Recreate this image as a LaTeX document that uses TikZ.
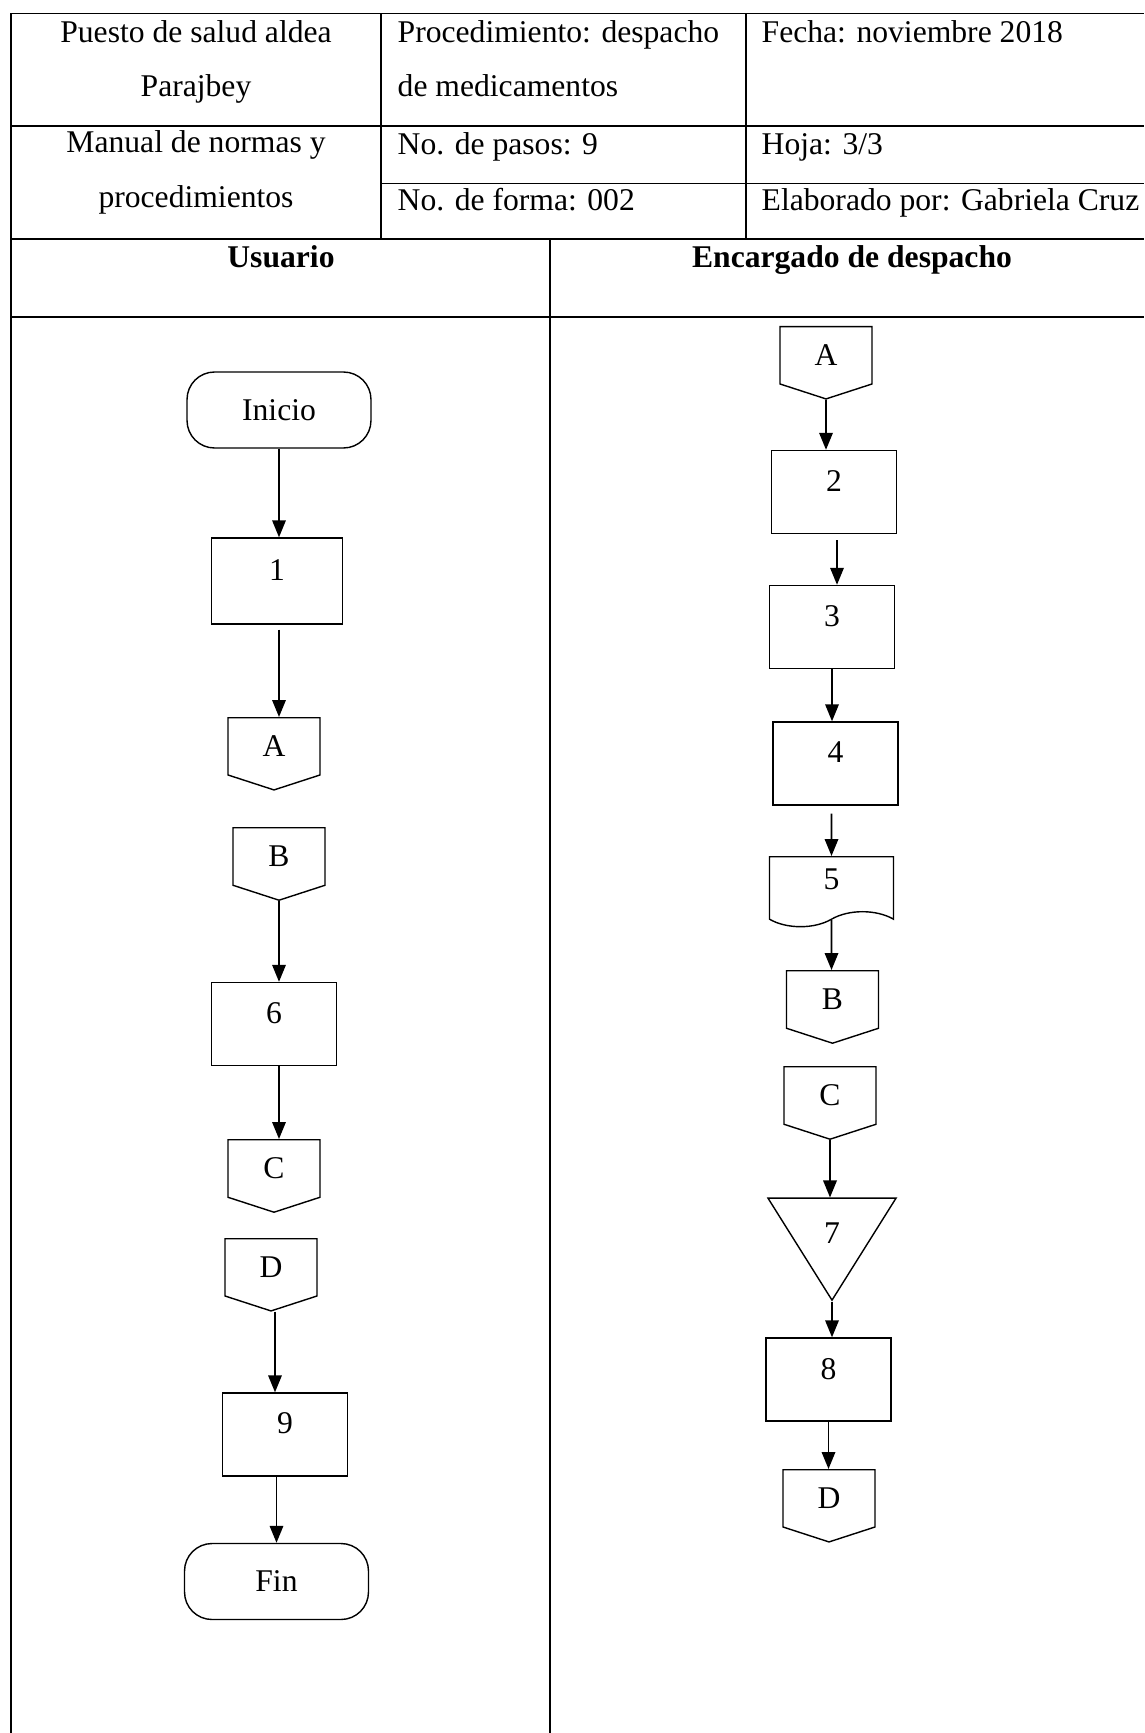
\documentclass[tikz,border=0pt]{standalone}
\usepackage{fontspec}
\setmainfont{Liberation Serif}
\usetikzlibrary{arrows.meta,shapes.geometric,shapes.symbols}

\begin{document}
\begin{tikzpicture}[x=0.02cm,y=-0.02cm,line width=0.8pt,
  every node/.style={font=\fontsize{18}{21}\selectfont},
  texto/.style={inner sep=0pt},
  titulo/.style={inner sep=0pt,font=\fontsize{18}{21}\selectfont\bfseries},
  caja/.style={draw,minimum width=2.5cm,minimum height=1.66cm,text depth=0.44cm,inner sep=0pt},
  terminal/.style={draw,rounded corners=0.55cm,minimum width=3.68cm,minimum height=1.52cm},
  conector/.style={draw,signal,signal to=south,signal from=nowhere,signal pointer angle=144,
    minimum width=1.84cm,minimum height=1.22cm,inner sep=0pt,anchor=north},
  documento/.style={draw,tape,tape bend top=none,tape bend bottom=in and out,tape bend height=0.3cm,
    minimum width=2.48cm,minimum height=1.4cm,text depth=0.2cm,anchor=north},
  union/.style={draw,isosceles triangle,isosceles triangle stretches,shape border rotate=-90,
    minimum width=2.56cm,minimum height=2.04cm,inner sep=0pt,anchor=apex},
  flecha/.style={-{Triangle[length=0.34cm,width=0.27cm]},line width=1pt}]
  \useasboundingbox (0,0) rectangle (1144,1733);

  % encabezado
  \draw (11,13.5) -- (1144,13.5);
  \draw (11,126) -- (1144,126);
  \draw (381,183.5) -- (1144,183.5);
  \draw (11,239) -- (1144,239);
  \draw (11,317) -- (1144,317);
  \draw (11,13.5) -- (11,1733);
  \draw (381,13.5) -- (381,239);
  \draw (746,13.5) -- (746,239);
  \draw (550,239) -- (550,1733);

  \node[texto,anchor=base] (puesto) at (196,43) {Puesto de salud aldea};
  \node[texto,anchor=base] (aldea) at (196,97) {Parajbey};
  \node[texto,anchor=base] (manual) at (196,153) {Manual de normas y};
  \node[texto,anchor=base] (normas) at (196,208) {procedimientos};
  \node[texto,anchor=base west] (proc) at (397,43) {Procedimiento: despacho};
  \node[texto,anchor=base west] (medic) at (397,97) {de medicamentos};
  \node[texto,anchor=base west] (pasos) at (397,155) {No. de pasos: 9};
  \node[texto,anchor=base west] (forma) at (397,211) {No. de forma: 002};
  \node[texto,anchor=base west] (fecha) at (761,43) {Fecha: noviembre 2018};
  \node[texto,anchor=base west] (hoja) at (761,155) {Hoja: 3/3};
  \node[texto,anchor=base west] (elab) at (761,211) {Elaborado por: Gabriela Cruz};
  \node[titulo,anchor=base] (usuario) at (281,268) {Usuario};
  \node[titulo,anchor=base] (encargado) at (852,268) {Encargado de despacho};

  % usuario
  \node[terminal] (ini) at (279,410) {Inicio};
  \node[caja,minimum width=2.62cm,minimum height=1.72cm] (p1) at (277,581) {1};
  \node[conector] (ca1) at (274,717) {A};
  \node[conector] (cb1) at (279,827) {B};
  \node[caja] (p6) at (274,1024) {6};
  \node[conector] (cc1) at (274,1139) {C};
  \node[conector] (cd1) at (271,1238) {D};
  \node[caja] (p9) at (285,1434.5) {9};
  \node[terminal] (fin) at (276.5,1581.5) {Fin};

  \draw[flecha] (ini) -- (ini |- p1.north);
  \draw[flecha,shorten <=0.1cm] (p1.south -| ini) -- (ini |- ca1.north);
  \draw[flecha] (cb1) -- (cb1 |- p6.north);
  \draw[flecha] (p6.south -| cb1) -- (cb1 |- cc1.north);
  \draw[flecha] (cd1.south -| p9) ++(-10,0) coordinate (sd1) -- (sd1 |- p9.north);
  \draw[flecha] (p9.south -| fin) -- (fin);

  % encargado de despacho
  \node[conector] (ca2) at (826,326) {A};
  \node[caja] (p2) at (834,492) {2};
  \node[caja] (p3) at (832,627) {3};
  \node[caja] (p4) at (835.5,763.5) {4};
  \node[documento] (d5) at (831.5,856) {5};
  \node[conector] (cb2) at (832.5,970) {B};
  \node[conector] (cc2) at (830,1066) {C};
  \node[union] (u7) at (832,1302) {};
  \node (t7) at (832,1233) {7};
  \node[caja] (p8) at (828.5,1379.5) {8};
  \node[conector] (cd2) at (829,1469) {D};

  \draw[flecha] (ca2) -- (ca2 |- p2.north);
  \draw[flecha,shorten <=0.12cm] (p2.south -| p3) ++(5,0) coordinate (s2) -- (s2 |- p3.north);
  \draw[flecha] (p3) -- (p3 |- p4.north);
  \draw[flecha,shorten <=0.16cm] (p4.south -| d5) -- (d5);
  \draw[flecha] (d5) -- (d5 |- cb2.north);
  \draw[flecha] (cc2) -- (cc2 |- u7.north);
  \draw[flecha] (u7.apex) -- (u7.apex |- p8.north);
  \draw[flecha] (p8) -- (p8 |- cd2.north);
\end{tikzpicture}
\end{document}
